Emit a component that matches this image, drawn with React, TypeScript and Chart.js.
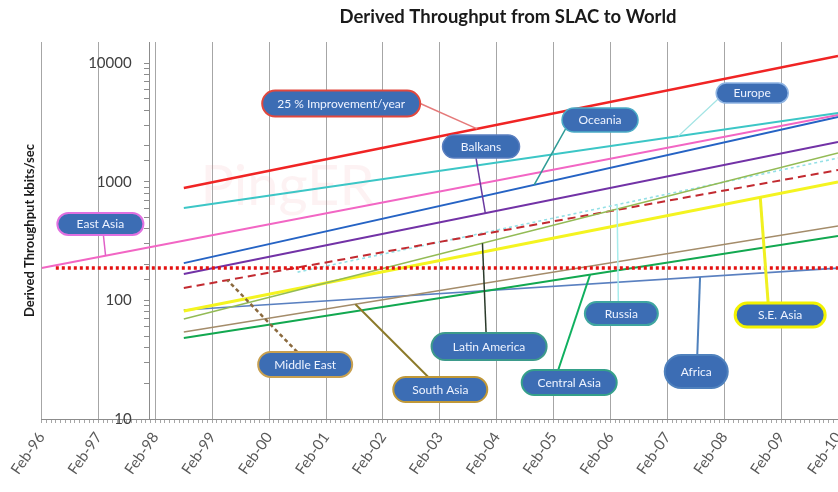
import React, { useEffect, useRef } from 'react';
import { Chart, registerables } from 'chart.js';

Chart.register(...registerables);

// ---------- data ----------
const chartTitle = 'Derived Throughput from SLAC to World';
const yTitle = 'Derived Throughput kbits/sec';
const watermark = 'PingER';

// x tick labels, one per year (x is measured in months from Feb-96)
const tickLabels = ['Feb-96', 'Feb-97', 'Feb-98', 'Feb-99', 'Feb-00', 'Feb-01', 'Feb-02', 'Feb-03', 'Feb-04', 'Feb-05', 'Feb-06', 'Feb-07', 'Feb-08', 'Feb-09', 'Feb-10'];
const yTickValues = [10, 100, 1000, 10000];

// trend lines: start / end month and throughput (kbits/s)
const seriesNames = ['Reference', '25 % Improvement/year', 'Europe', 'East Asia', 'Oceania', 'Balkans', 'Latin America', 'Middle East', 'Russia', 'S.E. Asia', 'South Asia', 'Central Asia', 'Africa'];
const startMonth = [3, 30, 30, 0, 30, 30, 30, 30, 54, 30, 30, 30, 30];
const endMonth = [168, 168, 168, 168, 168, 168, 168, 168, 168, 168, 168, 168, 168];
const startKbps = [187, 884, 600, 187, 206, 167, 69.6, 127, 173, 81.3, 54.1, 48.1, 82.9];
const endKbps = [187, 11460, 3790, 3645, 3507, 2159, 1744, 1254, 1582, 993, 423, 348, 187];

// ---------- styles ----------
const lineColors = ['#E41212', '#F02424', '#3CC6C6', '#F266C4', '#2563C4', '#7232A6', '#93BB55', '#C22A30', '#94E0E6', '#F4F420', '#A48C6A', '#12A850', '#5A80C0'];
const lineWidths = [3.5, 2.5, 2, 2, 2, 2, 1.6, 2, 1.6, 3, 1.6, 2, 1.6];
const lineDashes = [[3, 3], [], [], [], [], [], [], [8, 5], [3, 3], [], [], [], []];

// callouts: label box centre in data space, leader to a month on a series
const callouts = [
  { text: '25 % Improvement/year', series: 1, month: 63.2, kbps: 4557, w: 158, h: 26, border: '#E0483E', bw: 2, leader: '#E57A7A', lw: 1.5, from: [79, 0], at: 91.9, dash: [] },
  { text: 'Europe', series: 2, month: 149.9, kbps: 5586, w: 72, h: 20, border: '#8DB3E2', bw: 1.5, leader: '#A3E4E4', lw: 1.2, from: [-33, 5], at: 134.3, dash: [] },
  { text: 'Oceania', series: 4, month: 117.8, kbps: 3308, w: 76, h: 24, border: '#4BACC6', bw: 1.5, leader: '#2E9C96', lw: 1.5, from: [-34, 8], at: 103.9, dash: [] },
  { text: 'Balkans', series: 5, month: 92.7, kbps: 1978, w: 77, h: 23, border: '#5A7FC0', bw: 1.5, leader: '#6A3AA0', lw: 1.5, from: [-5, 11.5], at: 93.6, dash: [] },
  { text: 'East Asia', series: 3, month: 12.4, kbps: 440, w: 86, h: 22, border: '#E070E0', bw: 2, leader: '#E060C8', lw: 1.5, from: [3, 11], at: 13.5, dash: [] },
  { text: 'Middle East', series: 7, month: 55.6, kbps: 28.8, w: 94, h: 25, border: '#C8A050', bw: 2, leader: '#8B6A3E', lw: 2.5, from: [-8, -12.5], at: 39.2, dash: [4, 3] },
  { text: 'South Asia', series: 10, month: 84.1, kbps: 17.7, w: 94, h: 25, border: '#C09838', bw: 2, leader: '#8C7A2A', lw: 2, from: [-12, -12.5], at: 66.2, dash: [] },
  { text: 'Latin America', series: 6, month: 94.4, kbps: 40.8, w: 115, h: 27, border: '#3D9A8B', bw: 2, leader: '#2A3A2A', lw: 1.5, from: [-3, -13.5], at: 93, dash: [] },
  { text: 'Central Asia', series: 11, month: 111.3, kbps: 20.3, w: 95, h: 25, border: '#35A08A', bw: 2, leader: '#10B060', lw: 2, from: [-11, -12.5], at: 115.7, dash: [] },
  { text: 'Russia', series: 8, month: 122.3, kbps: 77.4, w: 73, h: 23, border: '#3FA5A0', bw: 2, leader: '#A8ECEC', lw: 1.5, from: [-3, -11.5], at: 121.4, dash: [] },
  { text: 'Africa', series: 12, month: 138.1, kbps: 25.1, w: 63, h: 33, border: '#4F81BD', bw: 2, leader: '#4F81BD', lw: 2, from: [1, -16.5], at: 138.9, dash: [] },
  { text: 'S.E. Asia', series: 9, month: 155.8, kbps: 75.2, w: 90, h: 24, border: '#F2F200', bw: 3, leader: '#F0F020', lw: 3, from: [-12, -12], at: 151.6, dash: [] },
];

const AXIS_CROSS_MONTH = 22.8;
const LABEL_MONTH = 19.0;
const Y_MIN = 10;
const Y_MAX = 15040;
const FONT = 'Lato, "Open Sans", sans-serif';

function valueOnSeries(i: number, m: number): number {
  const a = Math.log10(startKbps[i]);
  const b = Math.log10(endKbps[i]);
  const t = (m - startMonth[i]) / (endMonth[i] - startMonth[i]);
  return Math.pow(10, a + (b - a) * t);
}

function roundRect(ctx: CanvasRenderingContext2D, x: number, y: number, w: number, h: number, r: number) {
  const rr = Math.min(r, h / 2, w / 2);
  ctx.beginPath();
  ctx.moveTo(x + rr, y);
  ctx.lineTo(x + w - rr, y);
  ctx.arc(x + w - rr, y + rr, rr, -Math.PI / 2, 0);
  ctx.lineTo(x + w, y + h - rr);
  ctx.arc(x + w - rr, y + h - rr, rr, 0, Math.PI / 2);
  ctx.lineTo(x + rr, y + h);
  ctx.arc(x + rr, y + h - rr, rr, Math.PI / 2, Math.PI);
  ctx.lineTo(x, y + rr);
  ctx.arc(x + rr, y + rr, rr, Math.PI, Math.PI * 1.5);
  ctx.closePath();
}

const decorPlugin = {
  id: 'decor',
  beforeDatasetsDraw(chart: any) {
    const ctx = chart.ctx as CanvasRenderingContext2D;
    const xs = chart.scales.x;
    const ys = chart.scales.y;
    ctx.save();
    ctx.font = `56px ${FONT}`;
    ctx.fillStyle = 'rgba(236,140,150,0.11)';
    ctx.textAlign = 'left';
    ctx.textBaseline = 'alphabetic';
    ctx.fillText(watermark, xs.getPixelForValue(33.5), ys.getPixelForValue(640));
    ctx.restore();
  },
  afterDatasetsDraw(chart: any) {
    const ctx = chart.ctx as CanvasRenderingContext2D;
    const xs = chart.scales.x;
    const ys = chart.scales.y;
    ctx.save();
    for (const c of callouts) {
      const cx = xs.getPixelForValue(c.month);
      const cy = ys.getPixelForValue(c.kbps);
      const tx = xs.getPixelForValue(c.at);
      const ty = ys.getPixelForValue(valueOnSeries(c.series, c.at));
      ctx.beginPath();
      ctx.setLineDash(c.dash);
      ctx.strokeStyle = c.leader;
      ctx.lineWidth = c.lw;
      ctx.moveTo(cx + c.from[0], cy + c.from[1]);
      ctx.lineTo(tx, ty);
      ctx.stroke();
      ctx.setLineDash([]);
      roundRect(ctx, cx - c.w / 2, cy - c.h / 2, c.w, c.h, c.h / 2);
      ctx.fillStyle = '#3C6DB4';
      ctx.fill();
      ctx.lineWidth = c.bw;
      ctx.strokeStyle = c.border;
      ctx.stroke();
      ctx.fillStyle = '#EEF3FF';
      ctx.font = `12px ${FONT}`;
      ctx.textAlign = 'center';
      ctx.textBaseline = 'middle';
      ctx.fillText(c.text, cx, cy + 0.5);
    }
    ctx.restore();
  },
  afterDraw(chart: any) {
    const ctx = chart.ctx as CanvasRenderingContext2D;
    const xs = chart.scales.x;
    ctx.save();
    ctx.font = `bold 18.5px ${FONT}`;
    ctx.fillStyle = '#1A1A1A';
    ctx.textAlign = 'center';
    ctx.textBaseline = 'middle';
    ctx.fillText(chartTitle, xs.getPixelForValue(98.4), 17);
    ctx.restore();
  },
};

export default function App() {
  const canvasRef = useRef<HTMLCanvasElement | null>(null);

  useEffect(() => {
    if (!canvasRef.current) return;
    const datasets = seriesNames.map((name, i) => ({
      label: name,
      data: [
        { x: startMonth[i], y: startKbps[i] },
        { x: endMonth[i], y: endKbps[i] },
      ],
      borderColor: lineColors[i],
      backgroundColor: lineColors[i],
      borderWidth: lineWidths[i],
      borderDash: lineDashes[i],
      borderCapStyle: 'butt' as const,
      pointRadius: 0,
      fill: false,
      tension: 0,
      xAxisID: 'x',
      yAxisID: 'y',
    }));

    const logRange = { type: 'logarithmic' as const, axis: 'y' as const, min: Y_MIN, max: Y_MAX };

    const chart = new Chart(canvasRef.current, {
      type: 'line',
      data: { datasets },
      plugins: [decorPlugin],
      options: {
        animation: false,
        responsive: false,
        events: [],
        layout: { padding: { top: 42, left: 18, right: 0, bottom: 0 } },
        plugins: {
          legend: { display: false },
          tooltip: { enabled: false },
          title: { display: false },
        },
        scales: {
          x: {
            type: 'linear',
            min: 0,
            max: 168,
            afterFit: (s: any) => {
              s.height = 73;
              s.paddingRight = 0;
              s.paddingLeft = 0;
            },
            ticks: {
              stepSize: 1,
              autoSkip: false,
              maxRotation: 55,
              minRotation: 55,
              padding: 6,
              color: '#595959',
              font: { family: FONT, size: 15 },
              callback: (v: any) => {
                const n = Math.round(Number(v));
                return n % 12 === 0 ? tickLabels[n / 12] : '';
              },
            },
            grid: {
              color: (ctx: any) => (ctx.tick && Math.round(ctx.tick.value) % 12 === 0 ? '#A6A6A6' : 'rgba(0,0,0,0)'),
              tickColor: '#A6A6A6',
              tickLength: 4,
              lineWidth: 1,
            },
            border: { color: '#8C8C8C', width: 1 },
          },
          y: {
            ...logRange,
            position: 'left',
            ticks: { display: false },
            grid: { display: false, drawTicks: false },
            border: { display: false },
            title: {
              display: true,
              text: yTitle,
              color: '#1A1A1A',
              font: { family: FONT, size: 13, weight: 'bold' },
              padding: { top: 4, bottom: 4 },
            },
          },
          yAxisLine: {
            ...logRange,
            position: { x: AXIS_CROSS_MONTH },
            afterBuildTicks: (s: any) => {
              s.ticks = s.ticks.filter((t: any) => t.value <= 10000);
            },
            ticks: { display: false },
            grid: { drawOnChartArea: false, drawTicks: true, tickLength: 5, color: '#8C8C8C' },
            border: { display: true, color: '#8C8C8C', width: 1 },
          },
          yLabels: {
            ...logRange,
            position: { x: LABEL_MONTH },
            ticks: {
              autoSkip: false,
              color: '#404040',
              font: { family: FONT, size: 15 },
              callback: (v: any) => (yTickValues.includes(Number(v)) ? String(v) : ''),
            },
            grid: { display: false, drawTicks: false },
            border: { display: false },
          },
        },
      } as any,
    });
    return () => chart.destroy();
  }, []);

  return (
    <div style={{ position: 'fixed', left: 0, top: 0, width: 838, height: 492, background: '#fff' }}>
      <canvas ref={canvasRef} width={838} height={492} style={{ display: 'block' }} />
    </div>
  );
}
